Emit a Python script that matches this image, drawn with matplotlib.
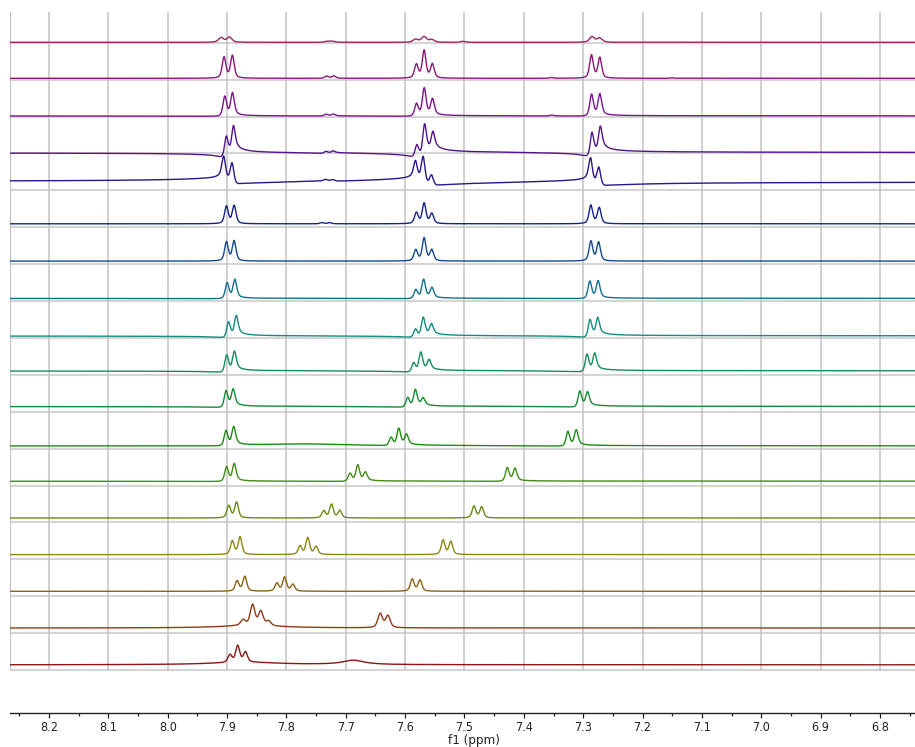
import numpy as np
import matplotlib
matplotlib.use("Agg")
import matplotlib.pyplot as plt
from matplotlib import font_manager
from matplotlib.ticker import FixedLocator, MultipleLocator

# ---------------- data ----------------
x_left_ppm = 8.2657
x_right_ppm = 6.741
xtick_values = [8.2, 8.1, 8.0, 7.9, 7.8, 7.7, 7.6, 7.5, 7.4, 7.3, 7.2, 7.1, 7.0, 6.9, 6.8]
xtick_labels = ["8.2", "8.1", "8.0", "7.9", "7.8", "7.7", "7.6", "7.5", "7.4", "7.3",
                "7.2", "7.1", "7.0", "6.9", "6.8"]
xlabel_text = "f1 (ppm)"

# traces listed from top to bottom
trace_colors = ["#9a2560", "#8c1576", "#7a158c", "#54158c", "#2d158c", "#15238c",
                "#15498c", "#15708c", "#158c82", "#158c5a", "#158c35", "#1d8c15",
                "#438c15", "#688c15", "#8c8815", "#8c6215", "#8c3b15", "#8c1515"]

baseline_offset = [0.4, 1.3, 0.6, 0.7, 8.6, 3.4, 3.0, 2.6, 2.0, 3.9, 5.2, 2.7,
                   4.3, 4.4, 4.7, 4.9, 5.1, 5.2]
line_halfwidth = [0.0050, 0.0037, 0.0037, 0.0037, 0.0037, 0.0037, 0.0037, 0.0037,
                  0.0037, 0.0037, 0.0037, 0.0037, 0.0037, 0.0037, 0.0037, 0.0038,
                  0.0046, 0.0040]
phase_narrow = [0.0, 0.0, -0.1, -0.5, 0.35, 0.0, 0.0, -0.1, -0.3, -0.25, -0.2, -0.15,
                -0.1, 0.0, 0.0, 0.0, 0.0, 0.0]
phase_broad = [0.0, 0.0, 0.0, 0.0, 0.065, 0.0, 0.0, 0.0, 0.0, 0.0, 0.0, 0.0,
               0.0, 0.0, 0.0, 0.0, 0.0, 0.0]

peaks_ppm = [
    [7.910, 7.896, 7.731, 7.722, 7.582, 7.568, 7.555, 7.502, 7.285, 7.272],
    [7.905, 7.891, 7.732, 7.720, 7.581, 7.568, 7.554, 7.353, 7.286, 7.272, 7.150],
    [7.904, 7.891, 7.733, 7.721, 7.581, 7.568, 7.554, 7.353, 7.286, 7.272],
    [7.902, 7.890, 7.734, 7.722, 7.581, 7.568, 7.554, 7.286, 7.272],
    [7.905, 7.891, 7.733, 7.721, 7.582, 7.569, 7.555, 7.287, 7.273],
    [7.901, 7.888, 7.740, 7.727, 7.581, 7.568, 7.555, 7.287, 7.273],
    [7.901, 7.888, 7.582, 7.568, 7.555, 7.287, 7.274],
    [7.900, 7.887, 7.582, 7.569, 7.555, 7.289, 7.275],
    [7.898, 7.885, 7.583, 7.570, 7.556, 7.289, 7.276],
    [7.901, 7.888, 7.586, 7.574, 7.560, 7.294, 7.281],
    [7.902, 7.890, 7.596, 7.583, 7.570, 7.306, 7.293],
    [7.902, 7.889, 7.624, 7.611, 7.598, 7.326, 7.312],
    [7.901, 7.888, 7.693, 7.680, 7.667, 7.428, 7.415],
    [7.897, 7.884, 7.737, 7.724, 7.710, 7.484, 7.471],
    [7.891, 7.878, 7.777, 7.764, 7.750, 7.536, 7.523],
    [7.883, 7.870, 7.816, 7.803, 7.789, 7.588, 7.575],
    [7.873, 7.857, 7.843, 7.830, 7.642, 7.629],
    [7.895, 7.882, 7.869],
]
peaks_height = [
    [4.6, 5.2, 1.0, 1.0, 3.0, 5.6, 2.6, 1.0, 5.6, 4.2],
    [21.0, 22.5, 2.2, 2.4, 13.5, 27.5, 14.0, 0.8, 23.0, 20.5, 0.5],
    [19.7, 22.3, 1.8, 1.8, 12.5, 27.3, 15.8, 0.8, 21.6, 21.0],
    [18.3, 23.0, 1.8, 1.8, 11.0, 27.0, 15.7, 20.6, 21.7],
    [21.5, 19.0, 1.5, 1.5, 16.5, 24.5, 9.5, 22.0, 16.7],
    [17.5, 18.0, 1.2, 1.2, 11.0, 20.3, 10.0, 18.5, 16.0],
    [19.0, 20.0, 11.0, 22.8, 11.0, 19.7, 18.7],
    [15.7, 18.2, 9.0, 18.6, 10.0, 17.2, 16.8],
    [14.8, 18.6, 8.0, 18.0, 10.0, 16.6, 16.2],
    [16.5, 18.2, 9.0, 18.0, 9.5, 16.9, 15.9],
    [16.2, 16.2, 9.5, 16.4, 7.2, 15.6, 13.3],
    [15.0, 17.6, 8.2, 16.5, 10.0, 14.3, 15.0],
    [14.6, 17.0, 8.0, 15.9, 8.3, 13.6, 12.4],
    [12.3, 15.7, 7.0, 13.6, 7.4, 11.8, 11.1],
    [13.5, 17.6, 8.6, 16.8, 7.9, 14.4, 13.0],
    [10.3, 14.7, 8.0, 14.0, 6.8, 12.1, 11.1],
    [5.5, 20.5, 14.0, 4.5, 14.0, 12.0],
    [7.5, 16.5, 10.0],
]
# broad underlying humps: (ppm, height, halfwidth) per trace
hump_ppm = [[], [], [], [], [], [], [], [], [], [], [], [7.76], [], [], [], [], [7.86], [7.687, 7.87]]
hump_height = [[], [], [], [], [], [], [], [], [], [], [], [2.0], [], [], [], [], [2.5], [4.3, 2.5]]
hump_width = [[], [], [], [], [], [], [], [], [], [], [], [0.10], [], [], [], [], [0.06], [0.022, 0.07]]

# ---------------- fonts ----------------
available = {f.name for f in font_manager.fontManager.ttflist}
if "Liberation Sans Narrow" in available:
    tick_font = dict(family="Liberation Sans Narrow")
else:
    tick_font = dict(family="DejaVu Sans", stretch="condensed")

# ---------------- figure ----------------
W, H = 915, 747
fig = plt.figure(figsize=(W / 100, H / 100), dpi=100)
ax_left_px, ax_right_px = 10, 915
ax_top_px, ax_bottom_px = 12, 712.5
grid_bottom_px = 670
ax = fig.add_axes([ax_left_px / W, (H - ax_bottom_px) / H,
                   (ax_right_px - ax_left_px) / W, (ax_bottom_px - ax_top_px) / H])

n = len(peaks_ppm)
spacing = (grid_bottom_px - 42.7) / (n - 1)
y_top = grid_bottom_px - ax_top_px
y_bottom = -(ax_bottom_px - grid_bottom_px)

x = np.linspace(x_right_ppm, x_left_ppm, 9000)
broad_w = 0.04
eta = 0.5  # Lorentzian fraction of the pseudo-Voigt line shape

# gray panel lines and vertical grid
for k in range(n):
    ax.hlines((n - 1 - k) * spacing, x_right_ppm, x_left_ppm, color="#d4d4d4",
              lw=1.5, zorder=1)
ax.vlines(xtick_values, 0, y_top, color="#c2c2c2", lw=1.1, zorder=1)
ax.vlines([x_left_ppm], 0, y_top, color="#c2c2c2", lw=1.6, zorder=1)

for k in range(n):
    g = line_halfwidth[k]
    sig = g / 1.1774
    y = np.zeros_like(x)
    for p0, h in zip(peaks_ppm[k], peaks_height[k]):
        d = x - p0
        u = d / g
        ub = d / broad_w
        absorb = eta / (1 + u ** 2) + (1 - eta) * np.exp(-0.5 * (d / sig) ** 2)
        y += h * (absorb + phase_narrow[k] * u / (1 + u ** 2)
                  + phase_broad[k] * ub / (1 + ub ** 2))
    for p0, h, w in zip(hump_ppm[k], hump_height[k], hump_width[k]):
        y += h / (1 + ((x - p0) / w) ** 2)
    ax.plot(x, (n - 1 - k) * spacing + baseline_offset[k] + y,
            color=trace_colors[k], lw=1.0, zorder=3)

ax.set_xlim(x_left_ppm, x_right_ppm)
ax.set_ylim(y_bottom, y_top)
for s in ["top", "left", "right"]:
    ax.spines[s].set_visible(False)
ax.spines["bottom"].set_color("#222222")
ax.spines["bottom"].set_linewidth(1.0)
ax.set_yticks([])
ax.xaxis.set_major_locator(FixedLocator(xtick_values))
ax.xaxis.set_minor_locator(MultipleLocator(0.05))
ax.set_xticklabels(xtick_labels, fontsize=9, color="#222222", **tick_font)
ax.tick_params(axis="x", which="major", direction="out", length=3.3, width=0.9,
               color="#222222", pad=3)
ax.tick_params(axis="x", which="minor", direction="out", length=2.0, width=0.9,
               color="#222222")
ax.set_xlabel(xlabel_text, fontsize=9.5, color="#222222", **tick_font)
ax.xaxis.set_label_coords((474 - ax_left_px) / (ax_right_px - ax_left_px), -0.031)

fig.savefig("out.png", dpi=100)
